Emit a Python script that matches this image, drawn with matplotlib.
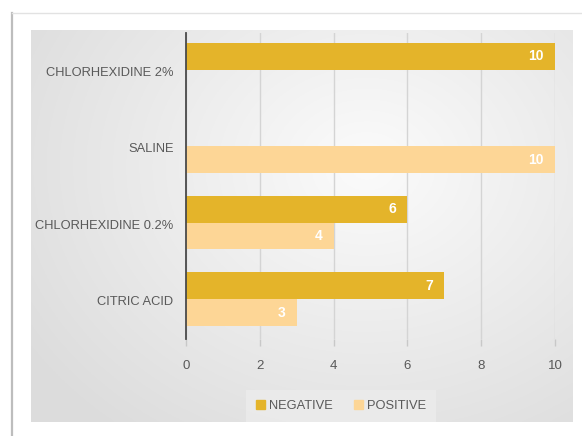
import matplotlib

matplotlib.use("Agg")

import matplotlib.pyplot as plt
from matplotlib.patches import Patch
import numpy as np

categories = ["CHLORHEXIDINE 2%", "SALINE", "CHLORHEXIDINE 0.2%", "CITRIC ACID"]
negative = [10, 0, 6, 7]
positive = [0, 10, 4, 3]
series_names = ["NEGATIVE", "POSITIVE"]
xticks = [0, 2, 4, 6, 8, 10]

NEG_COLOR = "#E4B42A"
POS_COLOR = "#FDD696"
TEXT_COLOR = "#595959"

plt.rcParams["font.family"] = ["Liberation Sans Narrow", "Liberation Sans", "DejaVu Sans"]

W, H = 582, 436
fig = plt.figure(figsize=(W / 100, H / 100), dpi=100)
fig.patch.set_facecolor("white")

# card outline (left and top edge of the outer frame)
frame = fig.add_axes([0, 0, 1, 1], zorder=-3)
frame.set_xlim(0, W)
frame.set_ylim(H, 0)
frame.axis("off")
frame.plot([12, 12], [13, H], color="#bdbdbd", lw=1.6)
frame.plot([12, W], [13, 13], color="#e2e2e2", lw=1.0)

# gray gradient panel behind the chart
bg = fig.add_axes([31 / W, 1 - 422 / H, (573 - 31) / W, (422 - 30) / H], zorder=-2)
gx, gy = np.meshgrid(np.linspace(0, 1, 300), np.linspace(0, 1, 300))
dist = np.sqrt(((gx - 0.62) / 0.75) ** 2 + ((gy - 0.35) / 0.85) ** 2)
shade = np.clip(0.985 - 0.12 * dist, 0.865, 0.985)
bg.imshow(np.dstack([shade] * 3), aspect="auto", extent=[0, 1, 1, 0])
bg.axis("off")

ax = fig.add_axes([186 / W, 1 - 339 / H, (555 - 186) / W, (339 - 33) / H])
ax.patch.set_alpha(0)

y = np.arange(len(categories))
h = 0.35
neg_bars = ax.barh(y - h / 2 - 0.02, negative, height=h, color=NEG_COLOR, zorder=3)
pos_bars = ax.barh(y + h / 2 - 0.02, positive, height=h, color=POS_COLOR, zorder=3)

for bars, vals in [(neg_bars, negative), (pos_bars, positive)]:
    for bar, v in zip(bars, vals):
        if v > 0:
            ax.text(v - 0.3, bar.get_y() + bar.get_height() / 2, str(v),
                    ha="right", va="center", color="white", fontsize=10,
                    fontweight="bold", zorder=4)

ax.set_xlim(0, 10)
ax.set_ylim(len(categories) - 0.5, -0.5)
ax.set_yticks(y)
ax.set_yticklabels(categories, fontsize=9.3, color=TEXT_COLOR)
ax.set_xticks(xticks)
ax.set_xticklabels([str(t) for t in xticks], fontsize=9.5, color=TEXT_COLOR)
ax.tick_params(axis="y", length=0, pad=9)
ax.tick_params(axis="x", length=5, color="#c8c8c8", width=1, pad=10)
ax.grid(axis="x", color="#d4d4d4", lw=1, zorder=0)
for side in ["top", "right", "bottom"]:
    ax.spines[side].set_visible(False)
ax.spines["left"].set_color("#4a4a4a")
ax.spines["left"].set_linewidth(1.3)
ax.spines["left"].set_zorder(5)

handles = [Patch(color=NEG_COLOR), Patch(color=POS_COLOR)]
leg = fig.legend(handles, series_names, loc="center", bbox_to_anchor=(341 / W, 1 - 406 / H),
                 ncol=2, frameon=True, fontsize=9.3, handlelength=0.7, handleheight=0.7,
                 handletextpad=0.3, columnspacing=1.6, borderpad=0.5, borderaxespad=0)
leg.get_frame().set_facecolor("#ececec")
leg.get_frame().set_edgecolor("none")
leg.get_frame().set_boxstyle("square")
for t in leg.get_texts():
    t.set_color(TEXT_COLOR)

fig.savefig("out.png", dpi=100)
